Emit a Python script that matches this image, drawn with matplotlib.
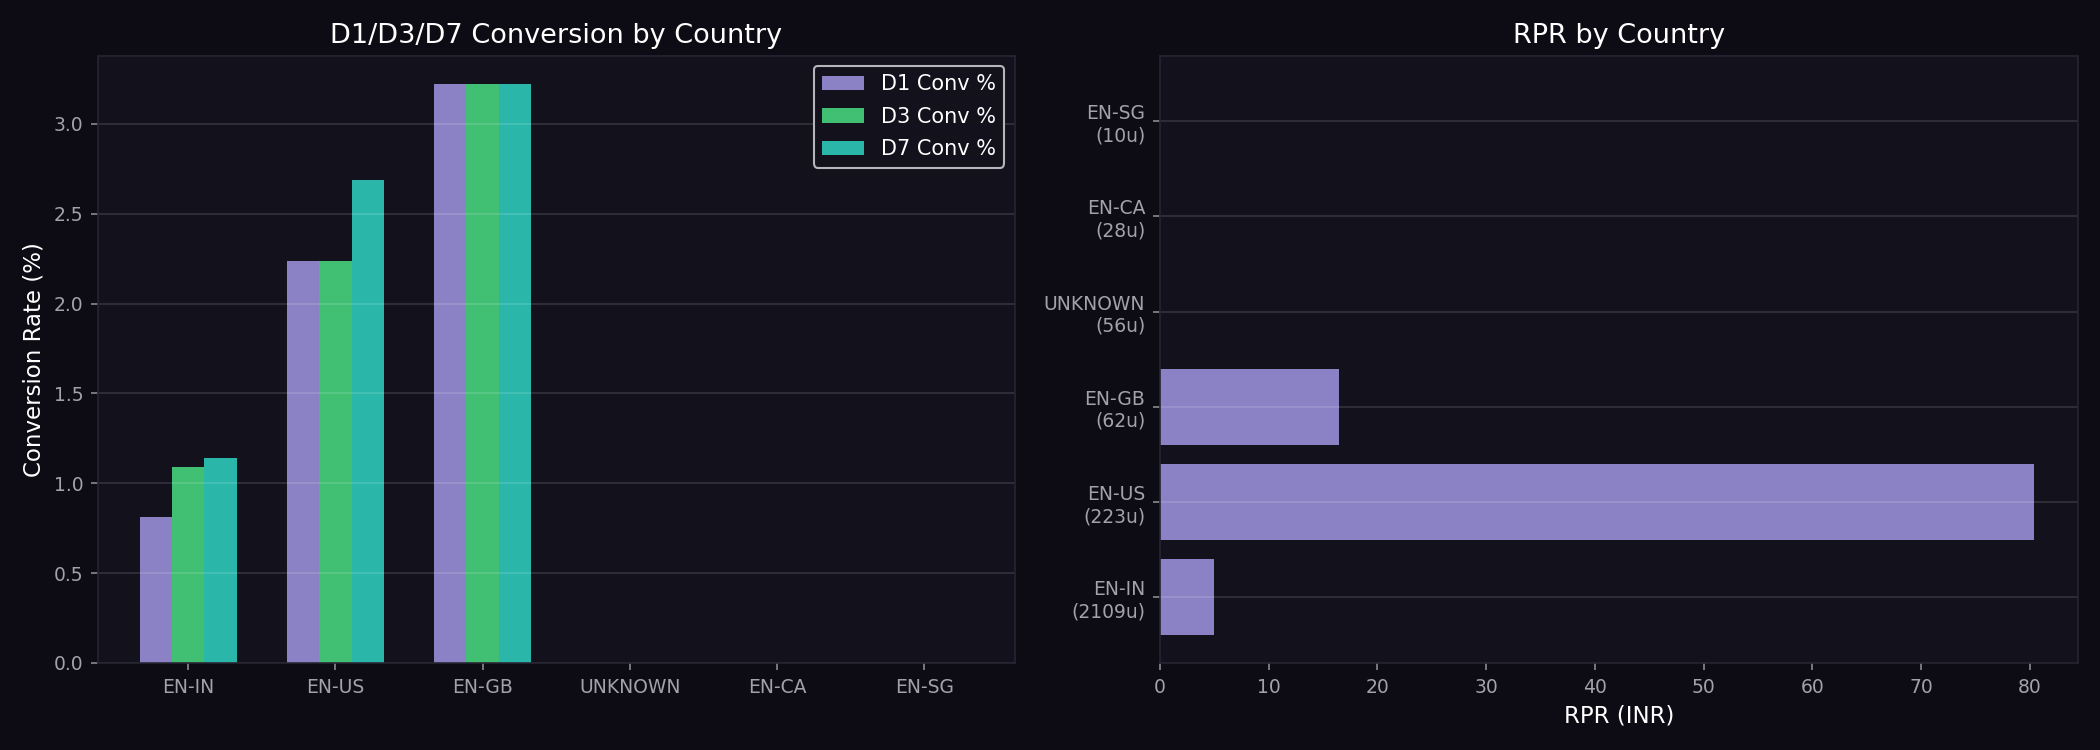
import numpy as np
import matplotlib
matplotlib.use("Agg")
import matplotlib.pyplot as plt

# Datos por país
countries = ["EN-IN", "EN-US", "EN-GB", "UNKNOWN", "EN-CA", "EN-SG"]
users = [2109, 223, 62, 56, 28, 10]
d1_conv = [0.81, 2.24, 3.22, 0.0, 0.0, 0.0]
d3_conv = [1.09, 2.24, 3.22, 0.0, 0.0, 0.0]
d7_conv = [1.14, 2.69, 3.22, 0.0, 0.0, 0.0]
rpr = [4.95, 80.4, 16.45, 0.0, 0.0, 0.0]

BG = "#0d0c14"
AX_BG = "#12111c"
PURPLE = "#8b82c6"
GREEN = "#41bf73"
TEAL = "#2ab7a9"
TICK = "#a3a2ab"

plt.rcParams["font.family"] = ["DejaVu Sans"]

fig, (ax1, ax2) = plt.subplots(1, 2, figsize=(14, 5), dpi=150)
fig.patch.set_facecolor(BG)
ax1.set_position([0.0466, 0.116, 0.4365, 0.810])
ax2.set_position([0.5523, 0.116, 0.4372, 0.810])

for ax in (ax1, ax2):
    ax.set_facecolor(AX_BG)
    for s in ax.spines.values():
        s.set_color("#262533")
    ax.tick_params(colors="#8a8993", labelcolor=TICK, labelsize=9)
    ax.grid(axis="y", color="white", alpha=0.13, linewidth=0.9)

# Conversion por pais
x = np.arange(len(countries))
w = 0.22
ax1.bar(x - w, d1_conv, w, color=PURPLE, label="D1 Conv %")
ax1.bar(x, d3_conv, w, color=GREEN, label="D3 Conv %")
ax1.bar(x + w, d7_conv, w, color=TEAL, label="D7 Conv %")
ax1.set_xticks(x)
ax1.set_xticklabels(countries)
ax1.set_ylabel("Conversion Rate (%)", color="white", fontsize=11)
ax1.set_title("D1/D3/D7 Conversion by Country", color="white", fontsize=13)
leg = ax1.legend(loc="upper right", fontsize=10, facecolor=AX_BG, edgecolor="#b5b5bb",
                 labelcolor="white", framealpha=1, labelspacing=0.6)

# RPR por pais
ylabels = [f"{c}\n({u}u)" for c, u in zip(countries, users)]
y = np.arange(len(countries))
ax2.barh(y, rpr, 0.8, color=PURPLE)
ax2.set_yticks(y)
ax2.set_yticklabels(ylabels, ha="right")
ax2.set_xlabel("RPR (INR)", color="white", fontsize=11)
ax2.set_title("RPR by Country", color="white", fontsize=13)

plt.savefig("out.png", dpi=150, facecolor=BG)
